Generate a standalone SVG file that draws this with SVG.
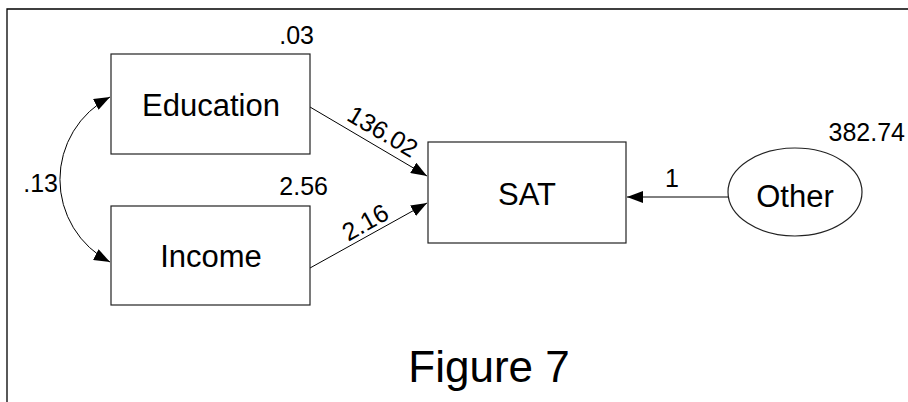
<svg xmlns="http://www.w3.org/2000/svg" width="908" height="402" viewBox="0 0 908 402">
  <style>
    .box { fill: #fff; stroke: #222; stroke-width: 1.2; }
    .edge { fill: none; stroke: #000; stroke-width: 1; }
    .lbl { font-family: "Liberation Sans", Arial, sans-serif; fill: #000; }
    .node { font-size: 31px; text-anchor: middle; }
    .num { font-size: 25px; }
  </style>
  <defs>
    <marker id="arrow" viewBox="0 0 16 12" refX="16" refY="6" markerWidth="16" markerHeight="12" markerUnits="userSpaceOnUse" orient="auto-start-reverse">
      <path d="M0,0 L16,6 L0,12 Z" fill="#000"/>
    </marker>
  </defs>
  <rect width="908" height="402" fill="#fff"/>
  <!-- frame -->
  <path d="M7,402 V9 H908" fill="none" stroke="#000" stroke-width="1.3"/>

  <g id="connectors">
    <path class="edge" d="M110,97 A93,93 0 0,0 110,262" marker-start="url(#arrow)" marker-end="url(#arrow)"/>
    <line class="edge" x1="310" y1="107" x2="427" y2="176" marker-end="url(#arrow)"/>
    <line class="edge" x1="310" y1="268" x2="427" y2="203" marker-end="url(#arrow)"/>
    <line class="edge" x1="728" y1="197" x2="627" y2="197" marker-end="url(#arrow)"/>
    <text class="lbl num" text-anchor="middle" transform="translate(378.4,138.8) rotate(30.5)">136.02</text>
    <text class="lbl num" text-anchor="middle" transform="translate(369.4,229.9) rotate(-29.05)">2.16</text>
    <text class="lbl num" x="672" y="187" text-anchor="middle">1</text>
    <text class="lbl num" x="58" y="192" text-anchor="end">.13</text>
  </g>

  <g id="education">
    <rect class="box" x="111" y="54" width="199" height="100"/>
    <text class="lbl node" x="211" y="116">Education</text>
    <text class="lbl num" x="314" y="44" text-anchor="end">.03</text>
  </g>

  <g id="income">
    <rect class="box" x="111" y="206" width="199" height="99"/>
    <text class="lbl node" x="211" y="267">Income</text>
    <text class="lbl num" x="328" y="195" text-anchor="end">2.56</text>
  </g>

  <g id="sat">
    <rect class="box" x="428" y="142" width="198" height="101"/>
    <text class="lbl node" x="527" y="205">SAT</text>
  </g>

  <g id="other">
    <ellipse class="box" cx="795" cy="192" rx="67" ry="44" stroke-width="1"/>
    <text class="lbl node" x="795" y="207">Other</text>
    <text class="lbl num" x="905" y="141" text-anchor="end">382.74</text>
  </g>

  <text class="lbl" x="489" y="382" font-size="44" text-anchor="middle">Figure 7</text>
</svg>
